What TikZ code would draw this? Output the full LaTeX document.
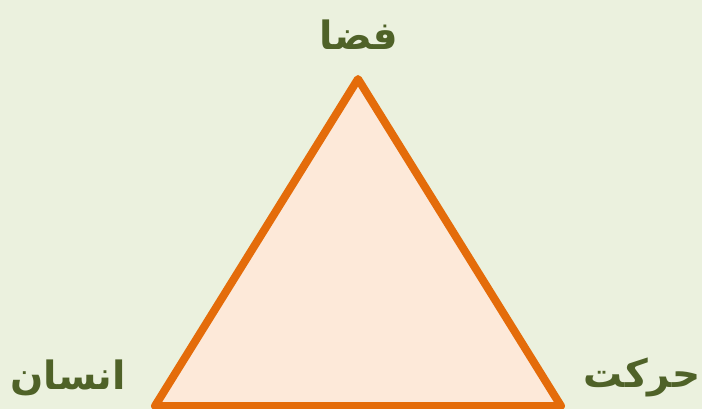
\documentclass[tikz,border=0pt]{standalone}
\usepackage{fontspec}
\usepackage{tikz}
\TeXXeTstate=1
\newfontfamily\arabicfont[Script=Arabic]{DejaVu Sans}

\definecolor{bgolive}{HTML}{EBF1DE}
\definecolor{edgeorange}{HTML}{E46C0A}
\definecolor{fillpeach}{HTML}{FDE9D9}
\definecolor{textolive}{HTML}{4F6228}

\begin{document}
\begin{tikzpicture}[x=1pt, y=-1pt, every node/.style={text=textolive, font=\arabicfont\bfseries\fontsize{39}{45}\selectfont, inner sep=0pt}]
  % Canvas
  \fill[bgolive] (0,0) rectangle (702,409);
  \useasboundingbox (0,0) rectangle (702,409);
  \clip (0,0) rectangle (702,409);

  % Corners
  \coordinate (apex) at (358,79);
  \coordinate (left) at (155,406);
  \coordinate (right) at (561,406);

  % Triangle
  \draw[edgeorange, fill=fillpeach, line width=8pt, line join=round] (apex) -- (left) -- (right) -- cycle;

  % Labels
  \node (space) at (359,35) {\beginR فضا\endR};
  \node (human) at (68,378) {\beginR انسان\endR};
  \node (motion) at (642,377) {\beginR حرکت\endR};
\end{tikzpicture}
\end{document}
